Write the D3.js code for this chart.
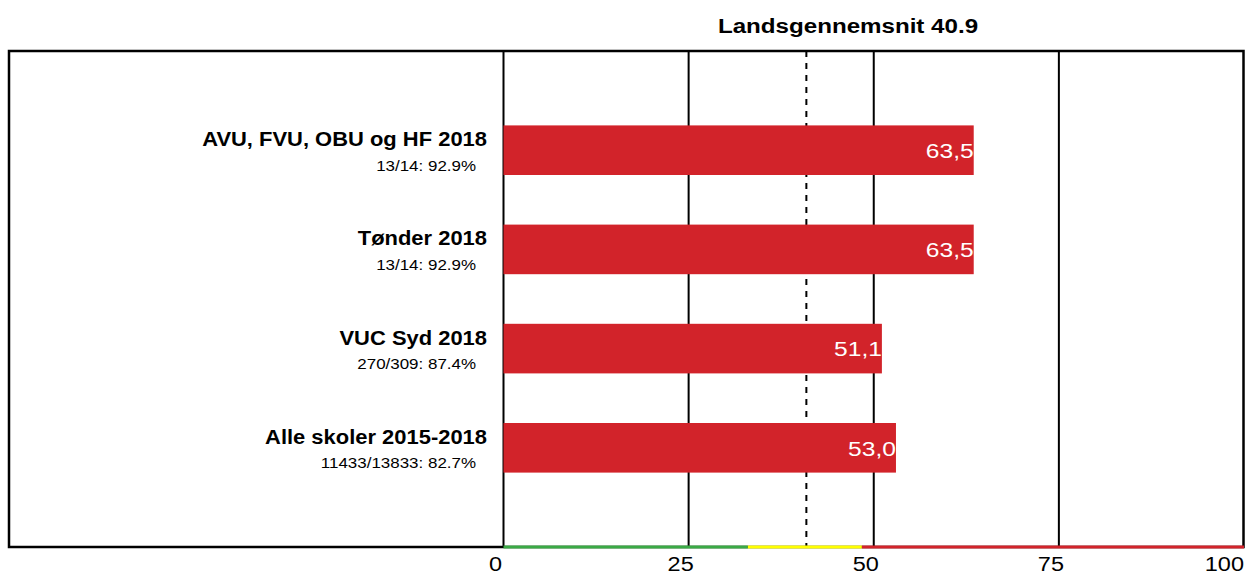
<!DOCTYPE html>
<html><head><meta charset="utf-8">
<script src="https://cdn.jsdelivr.net/npm/d3@7"></script>
<style>body{margin:0;background:#fff;} svg{display:block;} text{font-family:"Liberation Sans",Arial,sans-serif;}</style>
</head><body>
<svg id="c" width="1256" height="576"></svg>
<script>
const categories = ["AVU, FVU, OBU og HF 2018","Tønder 2018","VUC Syd 2018","Alle skoler 2015-2018"];
const subLabels = ["13/14: 92.9%","13/14: 92.9%","270/309: 87.4%","11433/13833: 82.7%"];
const values = [63.5, 63.5, 51.1, 53.0];
const valueLabels = ["63,5","63,5","51,1","53,0"];
const average = 40.9;
const titleText = "Landsgennemsnit 40.9";
const tickValues = [0, 25, 50, 75, 100];
const zoneBreaks = [0, 33.0, 48.4, 100];
const zoneColors = ["#3aaa45", "#ffff00", "#d2232a"];

const svg = d3.select("#c");
const frame = {left: 9, right: 1243.5, top: 51, bottom: 547};
const x = d3.scaleLinear().domain([0, 100]).range([503.5, 1244]);
const y = d3.scaleBand().domain(categories).range([frame.top, frame.bottom]).paddingInner(0.5).paddingOuter(0.75);
const mid = d => y(d) + y.bandwidth() / 2;

// title
svg.append("text").attr("transform", "translate(848,33) scale(1.15,1)").attr("text-anchor", "middle")
  .attr("font-size", 21).attr("font-weight", "bold").text(titleText);

// frame
svg.append("rect").attr("x", frame.left).attr("y", frame.top)
  .attr("width", frame.right - frame.left).attr("height", frame.bottom - frame.top)
  .attr("fill", "none").attr("stroke", "#000").attr("stroke-width", 2.5);

// gridlines
svg.append("g").selectAll("line").data(tickValues.filter(d => d > 0 && d < 100)).join("line")
  .attr("x1", d => x(d)).attr("x2", d => x(d)).attr("y1", frame.top).attr("y2", frame.bottom)
  .attr("stroke", "#000").attr("stroke-width", 2);

// zero line
svg.append("line").attr("x1", x(0)).attr("x2", x(0)).attr("y1", frame.top).attr("y2", frame.bottom)
  .attr("stroke", "#000").attr("stroke-width", 2);

// average dashed line
svg.append("line").attr("x1", x(average)).attr("x2", x(average)).attr("y1", frame.top).attr("y2", frame.bottom)
  .attr("stroke", "#000").attr("stroke-width", 2).attr("stroke-dasharray", "6,6");

// bars
svg.append("g").selectAll("rect").data(values).join("rect")
  .attr("x", x(0)).attr("y", (d, i) => y(categories[i]))
  .attr("width", d => x(d) - x(0)).attr("height", y.bandwidth())
  .attr("fill", "#d2232a");

// bar labels
svg.append("g").selectAll("text").data(values).join("text")
  .attr("transform", (d, i) => `translate(${x(d)},${mid(categories[i]) + 7.8}) scale(1.2,1)`)
  .attr("text-anchor", "end").attr("font-size", 20.5).attr("fill", "#fff")
  .text((d, i) => valueLabels[i]);

// category labels
svg.append("g").selectAll("text").data(categories).join("text")
  .attr("transform", d => `translate(487,${mid(d) - 4}) scale(1.045,1)`)
  .attr("text-anchor", "end").attr("font-size", 21).attr("font-weight", "bold").text(d => d);
svg.append("g").selectAll("text").data(subLabels).join("text")
  .attr("transform", (d, i) => `translate(476,${mid(categories[i]) + 20.5}) scale(1.13,1)`)
  .attr("text-anchor", "end").attr("font-size", 15).text(d => d);

// colored bottom zones
svg.append("g").selectAll("line").data(zoneColors).join("line")
  .attr("x1", (d, i) => x(zoneBreaks[i])).attr("x2", (d, i) => x(zoneBreaks[i + 1]))
  .attr("y1", frame.bottom).attr("y2", frame.bottom)
  .attr("stroke", d => d).attr("stroke-width", 3);

// x axis tick labels
const sxTick = 1.12;
const tl = svg.append("g").selectAll("text").data(tickValues).join("text")
  .attr("text-anchor", "middle").attr("font-size", 21)
  .text(d => d);
tl.attr("transform", function(d) {
  const w = this.getComputedTextLength() * sxTick;
  const cx = Math.min(x(d) - 8, 1244 - w / 2);
  return `translate(${cx},571) scale(${sxTick},1)`;
});
</script>
</body></html>
